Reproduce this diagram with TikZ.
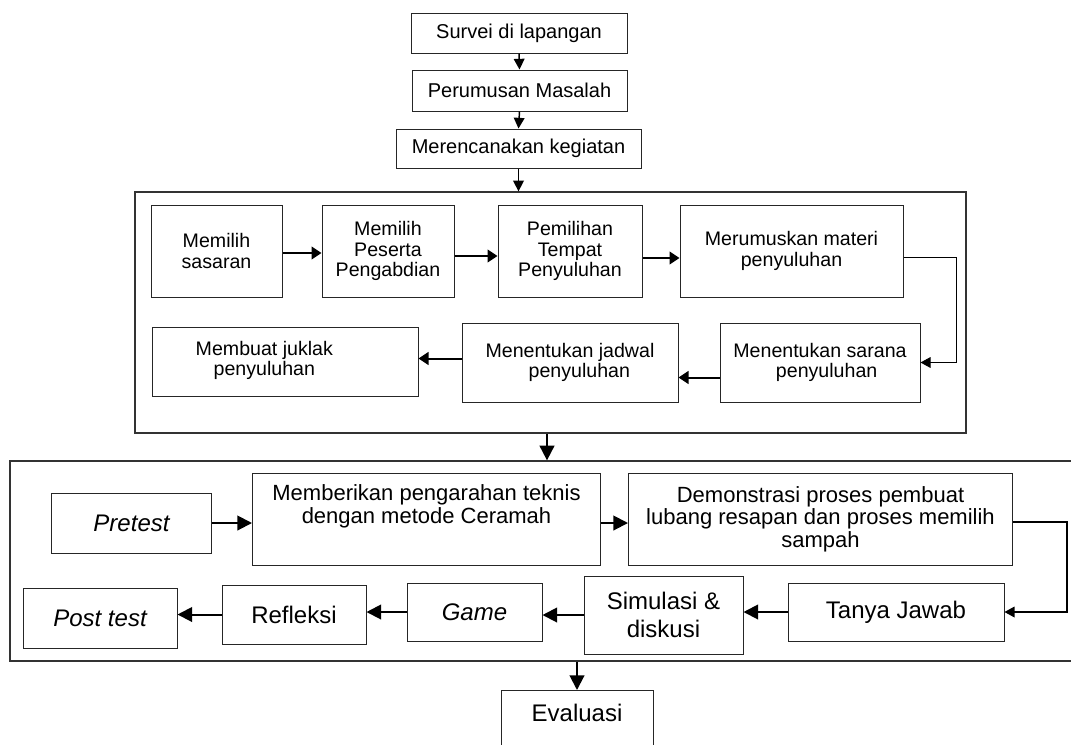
\documentclass[tikz,border=0pt]{standalone}
\usepackage{fontspec}
\setmainfont{Liberation Sans}
\usetikzlibrary{arrows.meta,calc}
\newcommand\PX{0.75pt}
\newcommand\ftop{\fontsize{15}{16}\selectfont}
\newcommand\fone{\fontsize{14.7}{15.5}\selectfont}
\newcommand\fmid{\fontsize{16.5}{17}\selectfont}
\newcommand\fbig{\fontsize{18}{20.5}\selectfont}
\begin{document}
\begin{tikzpicture}[x=0.75pt,y=-0.75pt,
  box/.style={draw=black!85, line width=1*\PX, inner sep=0pt, align=center},
  bx/.style 2 args={box, minimum width=#1*\PX, minimum height=#2*\PX},
  frame/.style={draw=black!80, line width=1.3*\PX, inner sep=0pt},
  arrtop/.style={-{Triangle[length=8pt,width=8pt]}, line width=1.1pt},
  arrone/.style={-{Triangle[length=7.5pt,width=9.5pt]}, line width=1.5pt},
  arrtwo/.style={-{Triangle[length=11pt,width=11pt]}, line width=1.5pt},
  elbow/.style={-{Triangle[length=7.5pt,width=8pt]}, line width=1*\PX},
]
\useasboundingbox (0,0) rectangle (1071,744);

% top boxes
\node[bx={216}{40}, font=\ftop] (s1) at (519,33) {Survei di lapangan};
\node[bx={215}{41}, font=\ftop] (s2) at (519.5,90.5) {Perumusan Masalah};
\node[bx={245}{39}, font=\ftop] (s3) at (518.5,148.5) {Merencanakan kegiatan};

% big frame 1
\node[frame, minimum width=831*\PX, minimum height=241*\PX] (box1) at (550.5,312.5) {};
\node[bx={131}{92}, font=\fone] (a1) at (216.5,251) {Memilih\\sasaran};
\node[bx={132}{92}, font=\fone] (a2) at (388,251) {Memilih\\Peserta\\Pengabdian};
\node[bx={144}{92}, font=\fone] (a3) at (570,251) {Pemilihan\\Tempat\\Penyuluhan};
\node[bx={223}{92}, font=\fone] (a4) at (791.5,251) {Merumuskan materi\\penyuluhan};
\node[bx={266}{69}, font=\fone] (b1) at (285,361.5)
  {\hbox to 0pt{\hss\begin{tabular}{@{}c@{}}Membuat juklak\\penyuluhan\end{tabular}\hskip 31pt\hss}};
\node[bx={216}{79}, font=\fone] (b2) at (570,362.5) {Menentukan jadwal\\\hspace*{14pt}penyuluhan};
\node[bx={200}{79}, font=\fone] (b3) at (820,362.5) {Menentukan sarana\\\hspace*{10pt}penyuluhan};

% big frame 2 (right side runs off the page)
\node[frame, minimum width=1070*\PX, minimum height=200*\PX] (box2) at (545,561) {};
\node[bx={160}{60}, font=\fbig\itshape] (p) at (131.5,523) {Pretest};
\node[bx={348}{92}, font=\fmid] (m) at (426.5,519) {Memberikan pengarahan teknis\\dengan metode Ceramah\\\strut};
\node[bx={384}{92}, font=\fmid] (d) at (820.5,519) {Demonstrasi proses pembuat\\lubang resapan dan proses memilih\\sampah};
\node[bx={216}{58}, font=\fbig] (t) at (896,612) {Tanya Jawab};
\node[bx={159}{78}, font=\fbig] (sim) at (663.5,615) {Simulasi \&\\diskusi};
\node[bx={135}{58}, font=\fbig\itshape] (g) at (474.5,612) {Game};
\node[bx={144}{59}, font=\fbig] (r) at (294,614.5) {Refleksi};
\node[bx={154}{60}, font=\fbig\itshape] (pt) at (100,618) {Post test};

% evaluation (bottom runs off the page)
\node[bx={152}{60}, font=\fbig, anchor=north, text height=13pt, text depth=11pt] (e) at (577,690) {Evaluasi};

% top connectors
\draw[arrtop] (s1.south) -- (s2.north);
\draw[arrtop] (s2.south) -- (s3.north);
\draw[arrtop] (s3.south) -- (s3.south |- box1.north);

% frame 1 connectors
\draw[arrone] ($(a1.east)+(0,2)$) -- ($(a2.west)+(0,2)$);
\draw[arrone] ($(a2.east)+(0,5)$) -- ($(a3.west)+(0,5)$);
\draw[arrone] ($(a3.east)+(0,7)$) -- ($(a4.west)+(0,7)$);
\draw[elbow] ($(a4.east)+(0,6)$) -- ++(53,0) |- (b3.east);
\draw[arrone] ($(b3.west)+(0,15)$) -- ($(b2.east)+(0,15)$);
\draw[arrone] ($(b2.west)+(0,-4)$) -- ($(b1.east)+(0,-3)$);

% between frames
\draw[arrtwo] ($(box1.south)+(-3.5,0)$) -- ($(box2.north)+(2,0)$);

% frame 2 connectors
\draw[arrtwo] (p.east) -- (m.west |- p.east);
\draw[arrtwo] ($(m.east)+(0,4)$) -- ($(d.west)+(0,4)$);
\draw[elbow, line width=1.2*\PX] ($(d.east)+(0,3)$) -- ++(54,0) |- (t.east);
\draw[arrtwo] (t.west) -- (sim.east |- t.west);
\draw[arrtwo] (sim.west) -- (g.east |- sim.west);
\draw[arrtwo] (g.west) -- (r.east |- g.west);
\draw[arrtwo] (r.west) -- (pt.east |- r.west);
\draw[arrtwo] (e.north |- box2.south) -- (e.north);
\end{tikzpicture}
\end{document}
